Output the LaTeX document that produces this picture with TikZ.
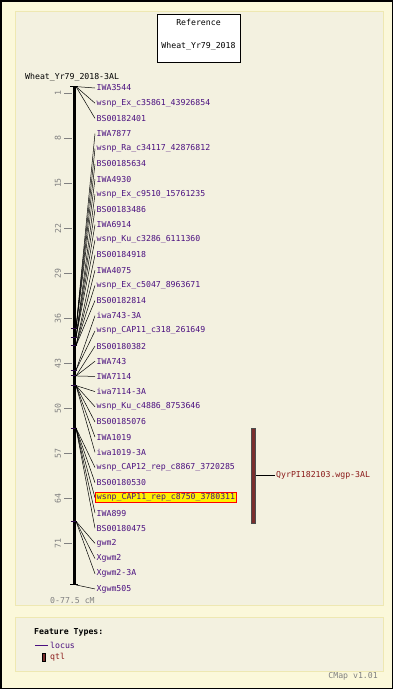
\documentclass[tikz,border=0pt]{standalone}
\usepackage{fontspec}
\setmonofont{DejaVu Sans Mono}
\usepackage{xcolor}
\usepackage{tikz}
\usetikzlibrary{positioning}

\definecolor{pageyel}{HTML}{FBF8DA}
\definecolor{panelyel}{HTML}{F3F1E0}
\definecolor{panelrim}{HTML}{EEE8B2}
\definecolor{locuscol}{HTML}{4B1080}
\definecolor{qtlcol}{HTML}{8B1A1A}
\definecolor{qtlfill}{HTML}{7A2E2E}
\definecolor{scalecol}{HTML}{808080}

\begin{document}
\begin{tikzpicture}[x=1pt, y=-1pt,
    font=\ttfamily\fontsize{8.2}{9}\selectfont,
    locus/.style={anchor=west, text=locuscol, inner xsep=1.5pt, inner ysep=1pt},
    hilite/.style={locus, fill=yellow, draw=red, line width=0.8pt},
    link/.style={black, line width=0.5pt},
    panel/.style={fill=panelyel, draw=panelrim, line width=1pt}]
    % Hintergrund und Felder
    \draw[fill=pageyel, draw=black, line width=1.5pt] (0.75,0.75) rectangle (392.25,688.25);
    \useasboundingbox (0,0) rectangle (393,689);
    \draw[panel] (15,11) rectangle (383,605);
    \draw[panel] (15,617) rectangle (383,671);

    % Titel
    \node[draw=black, fill=white, minimum width=83pt, minimum height=48pt] (title) at (198.5,38) {};
    \node (ref) at (198.5,22) {Reference};
    \node (mapname) at (198.5,46) {Wheat\_Yr79\_2018};
    \node[anchor=west, inner sep=0pt] (chrname) at (25,77) {Wheat\_Yr79\_2018-3AL};

    % Skala
    \foreach \c in {1,8,...,71} {
        \draw[scalecol] (64,{86.6+6.43*\c}) -- (72,{86.6+6.43*\c});
        \node[scalecol, rotate=90] at (58,{86.6+6.43*\c}) {\c};
    }
    \node[scalecol, anchor=west, inner sep=0pt] (range) at (50,601) {0-77.5 cM};

    % Chromosom
    \draw[line width=3pt] (74,86.6) -- (74,585);
    \draw[line width=1pt] (70,86.6) -- (78,86.6);
    \draw[line width=1pt] (70,584.5) -- (78,584.5);
    \foreach \cm in {37.6,39.0,40.3,44.1,45.0,46.5,53.1,67.6} {
        \draw[locuscol!60!black, line width=1pt] (70.5,{86.6+6.43*\cm}) -- (77,{86.6+6.43*\cm});
    }

    % Marker
    \foreach \txt/\cm/\sty [count=\i] in {
        IWA3544/0/locus, wsnp\_Ex\_c35861\_43926854/0/locus, BS00182401/0/locus,
        IWA7877/37.6/locus, wsnp\_Ra\_c34117\_42876812/37.6/locus,
        BS00185634/37.6/locus, IWA4930/37.6/locus,
        wsnp\_Ex\_c9510\_15761235/39.0/locus, BS00183486/39.0/locus,
        IWA6914/39.0/locus, wsnp\_Ku\_c3286\_6111360/39.0/locus,
        BS00184918/40.3/locus, IWA4075/40.3/locus,
        wsnp\_Ex\_c5047\_8963671/40.3/locus, BS00182814/40.3/locus,
        iwa743-3A/44.1/locus, wsnp\_CAP11\_c318\_261649/44.1/locus,
        BS00180382/45.0/locus, IWA743/45.0/locus, IWA7114/45.0/locus,
        iwa7114-3A/46.5/locus, wsnp\_Ku\_c4886\_8753646/46.5/locus,
        BS00185076/46.5/locus, IWA1019/46.5/locus, iwa1019-3A/46.5/locus,
        wsnp\_CAP12\_rep\_c8867\_3720285/53.1/locus, BS00180530/53.1/locus,
        wsnp\_CAP11\_rep\_c8750\_3780311/53.1/hilite, IWA899/53.1/locus,
        BS00180475/53.1/locus, gwm2/67.6/locus, Xgwm2/67.6/locus,
        Xgwm2-3A/67.6/locus, Xgwm505/77.5/locus} {
        \node[\sty] (m\i) at (95,{88+15.18*(\i-1)}) {\txt};
        \coordinate (c\i) at (76,{86.6+6.43*\cm});
        \draw[link] (c\i) -- (m\i.west);
    }

    % QTL
    \draw[fill=qtlfill, draw=black!70, line width=0.5pt] (251.5,428) rectangle (255.5,523);
    \coordinate (qmid) at (255.5,475);
    \node[anchor=west, text=qtlcol, inner xsep=1pt] (qtl) at (275,475) {QyrPI182103.wgp-3AL};
    \draw[link] (qmid) -- (qtl.west);

    % Legende
    \node[anchor=west, inner sep=0pt] (feat) at (34,632) {\bfseries Feature Types:};
    \coordinate (lstart) at (35,645);
    \node[anchor=west, text=locuscol, inner sep=0pt] (lleg) at (50,645) {locus};
    \draw[locuscol, line width=0.8pt] (lstart) -- ([xshift=-2pt]lleg.west);
    \draw[fill=qtlfill, draw=black, line width=0.5pt] (42,653) rectangle (45.5,661);
    \node[anchor=west, text=qtlcol, inner sep=0pt] (qleg) at (50,657) {qtl};

    \node[anchor=east, text=scalecol, inner sep=0pt] (ver) at (378,676) {CMap v1.01};
\end{tikzpicture}
\end{document}
